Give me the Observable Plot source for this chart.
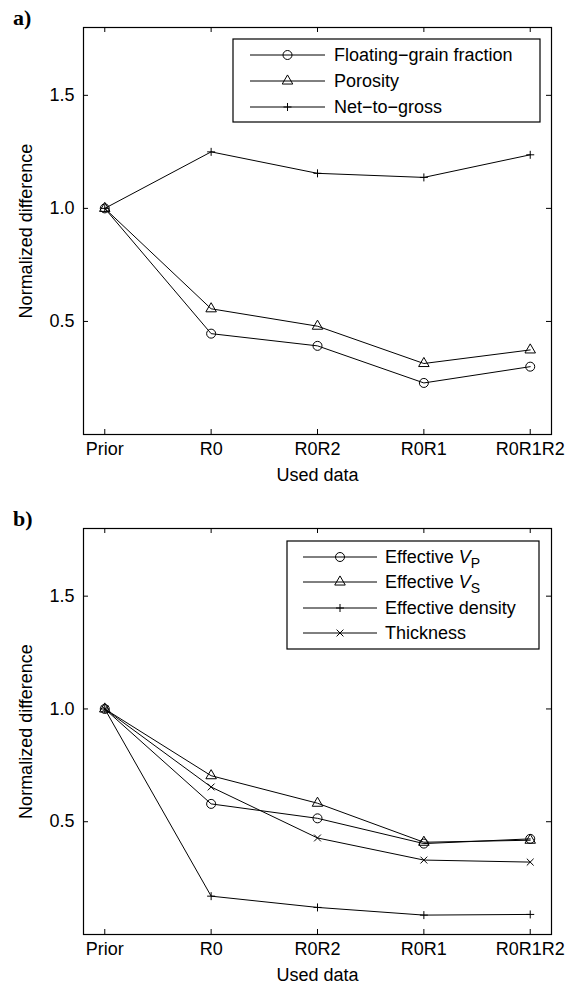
<!DOCTYPE html>
<html><head><meta charset="utf-8">
<script src="https://cdn.jsdelivr.net/npm/d3@7"></script>
<script src="https://cdn.jsdelivr.net/npm/@observablehq/plot@0.6"></script>
<style>
body{margin:0;background:#fff;}
#wrap{position:relative;width:573px;height:990px;overflow:hidden;}
#wrap > svg, #wrap > div{position:absolute;left:0;}
</style></head><body><div id="wrap"></div>
<script>
const categories = ["Prior","R0","R0R2","R0R1","R0R1R2"];
// panel a
const floatingGrain = [1.0,0.446,0.392,0.228,0.300];
const porosity     = [1.0,0.556,0.479,0.314,0.374];
const netToGross   = [1.0,1.250,1.155,1.137,1.237];
// panel b
const effVp      = [1.0,0.579,0.515,0.403,0.424];
const effVs      = [1.0,0.704,0.582,0.409,0.418];
const effDensity = [1.0,0.170,0.120,0.086,0.089];
const thickness  = [1.0,0.654,0.428,0.330,0.321];
const yTicks = [0.5,1.0,1.5];
const yDomain = [0,1.8];
const xLabel = "Used data";
const yLabel = "Normalized difference";

const FONT = "'Liberation Sans', Arial, sans-serif";
const FS = "18px";
const W = 573, ML = 83, MR = 22;
const sym = {
  circle: {symbol: "circle", r: 4.5},
  triangle: {symbol: "triangle", r: 3.9},
  plus: {symbol: "plus", r: 2.7},
  times: {symbol: "times", r: 3.2}
};

function panel({series, top, height, mt, mb}) {
  const innerW = W - ML - MR, innerH = height - mt - mb;
  const idx = categories.map((c, i) => i + 1);
  const marks = [
    Plot.frame({stroke: "black", strokeWidth: 1.2}),
    Plot.tickX(idx, {x: d => d, insetTop: innerH - 5, strokeWidth: 1}),
    Plot.tickX(idx, {x: d => d, insetBottom: innerH - 5, strokeWidth: 1}),
    Plot.tickY(yTicks, {y: d => d, insetRight: innerW - 5, strokeWidth: 1}),
    Plot.tickY(yTicks, {y: d => d, insetLeft: innerW - 5, strokeWidth: 1}),
    Plot.axisX(idx, {tickSize: 0, tickPadding: 8, tickFormat: i => categories[i - 1],
      label: xLabel, labelAnchor: "center", labelArrow: "none", labelOffset: 46}),
    Plot.axisY(yTicks, {tickSize: 0, tickPadding: 9, tickFormat: d3.format(".1f"),
      label: yLabel, labelAnchor: "center", labelArrow: "none", labelOffset: 64})
  ];
  for (const s of series) {
    const data = s.values.map((v, i) => ({x: i + 1, y: v}));
    marks.push(Plot.line(data, {x: "x", y: "y", stroke: "black", strokeWidth: 1}));
    marks.push(Plot.dot(data, {x: "x", y: "y", symbol: sym[s.marker].symbol, r: sym[s.marker].r,
      stroke: "black", fill: "none", strokeWidth: 1}));
  }
  const svg = Plot.plot({
    width: W, height, marginLeft: ML, marginRight: MR, marginTop: mt, marginBottom: mb,
    style: {fontFamily: FONT, fontSize: FS, color: "black", background: "white"},
    x: {type: "linear", domain: [0.8, 5.2]},
    y: {domain: yDomain},
    marks
  });
  svg.style.top = top + "px";
  return svg;
}

const wrap = document.getElementById("wrap");
const seriesA = [
  {name: "Floating\u2212grain fraction", values: floatingGrain, marker: "circle"},
  {name: "Porosity", values: porosity, marker: "triangle"},
  {name: "Net\u2212to\u2212gross", values: netToGross, marker: "plus"}
];
const seriesB = [
  {name: ["Effective ", "V", "P"], values: effVp, marker: "circle"},
  {name: ["Effective ", "V", "S"], values: effVs, marker: "triangle"},
  {name: "Effective density", values: effDensity, marker: "plus"},
  {name: "Thickness", values: thickness, marker: "times"}
];
wrap.appendChild(panel({series: seriesA, top: 0, height: 490, mt: 27, mb: 56}));
wrap.appendChild(panel({series: seriesB, top: 490, height: 500, mt: 38, mb: 56}));

// overlay: panel letters and legends
const ov = d3.select(wrap).append("svg").attr("width", W).attr("height", 990)
  .style("top", "0px").style("font-family", FONT).style("font-size", FS);
ov.append("text").attr("x", 13).attr("y", 25).text("a)")
  .style("font-family", "'Liberation Serif', 'Times New Roman', serif").style("font-weight", "bold").style("font-size", "22px");
ov.append("text").attr("x", 13).attr("y", 526).text("b)")
  .style("font-family", "'Liberation Serif', 'Times New Roman', serif").style("font-weight", "bold").style("font-size", "22px");

function legend({series, x0, y0, x1, y1, rowY, lx0, lx1, tx}) {
  const g = ov.append("g");
  g.append("rect").attr("x", x0).attr("y", y0).attr("width", x1 - x0).attr("height", y1 - y0)
    .attr("fill", "white").attr("stroke", "black").attr("stroke-width", 1.2);
  series.forEach((s, i) => {
    const y = rowY[i];
    g.append("line").attr("x1", lx0).attr("x2", lx1).attr("y1", y).attr("y2", y).attr("stroke", "black");
    const st = sym[s.marker];
    const type = {circle: d3.symbolCircle, triangle: d3.symbolTriangle, plus: d3.symbolPlus, times: d3.symbolTimes}[s.marker];
    g.append("path").attr("d", d3.symbol(type, Math.PI * st.r * st.r)())
      .attr("transform", `translate(${(lx0 + lx1) / 2},${y})`).attr("fill", "none").attr("stroke", "black");
    const t = g.append("text").attr("x", tx).attr("y", y).attr("dy", "0.35em");
    if (Array.isArray(s.name)) {
      t.append("tspan").text(s.name[0]);
      t.append("tspan").text(s.name[1]).style("font-style", "italic");
      t.append("tspan").text(s.name[2]).attr("dy", "0.3em").style("font-size", "14px");
    } else t.text(s.name);
  });
}
legend({series: seriesA, x0: 233, y0: 39, x1: 540, y1: 122, rowY: [55, 81, 107], lx0: 250, lx1: 325, tx: 334});
legend({series: seriesB, x0: 287, y0: 541, x1: 539, y1: 649, rowY: [557, 582, 608, 633], lx0: 303, lx1: 377, tx: 385});
</script></body></html>
